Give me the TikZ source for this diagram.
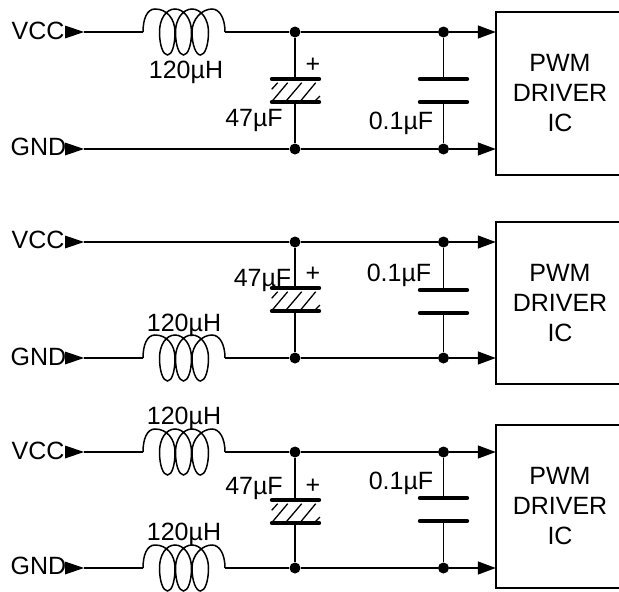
\documentclass[tikz,border=0pt]{standalone}
\usepackage{fontspec}
\setmainfont{Liberation Sans}
\usetikzlibrary{arrows.meta}
\tikzset{
  wire/.style={line width=1.5pt,black},
  plate/.style={line width=4.4pt,line cap=round,black},
  hatchline/.style={line width=1.3pt,black},
  dot/.style={circle,fill=black,inner sep=0pt,minimum size=11pt},
  tipwire/.style={wire,-{Triangle[length=18pt,width=13pt]},shorten >=-0.5pt},
  lbl/.style={anchor=base,inner sep=0pt,font=\fontsize{25}{30}\selectfont},
  chip/.style={draw,line width=1.5pt,inner sep=0pt,minimum width=128pt,align=center,font=\fontsize{25}{30}\selectfont}
}
% coil: name, wire y
\newcommand{\coilat}[2]{%
  \coordinate (#1-in) at (143,#2);
  \coordinate (#1-out) at (225,#2);
  \draw[wire,shift={(0,#2)}] (143,0)
    .. controls (143,-13) and (147,-23) .. (155,-23)
    .. controls (167,-23) and (175,-13) .. (175,0)
    .. controls (175,13) and (172,23) .. (167.5,23)
    .. controls (163,23) and (159.5,13) .. (159.5,0)
    .. controls (159.5,-13) and (166,-23) .. (175,-23)
    .. controls (184,-23) and (191.5,-13) .. (191.5,0)
    .. controls (191.5,13) and (188,23) .. (183.5,23)
    .. controls (179,23) and (175.5,13) .. (175.5,0)
    .. controls (175.5,-13) and (183,-23) .. (192,-23)
    .. controls (201,-23) and (208.5,-13) .. (208.5,0)
    .. controls (208.5,13) and (205,23) .. (200.5,23)
    .. controls (196,23) and (192,13) .. (192,0)
    .. controls (192,-13) and (202,-23) .. (212,-23)
    .. controls (220,-23) and (225,-13) .. (225,0);
}
% panel: name, yV, yG, electrolytic plate top, ceramic plate top, box top, box bottom
\newcommand{\panelat}[7]{%
  \coordinate (#1-vs) at (65,#2);
  \coordinate (#1-vt) at (84,#2);
  \coordinate (#1-gs) at (65,#3);
  \coordinate (#1-gt) at (84,#3);
  \node[dot] (#1-va) at (295,#2) {};
  \node[dot] (#1-ga) at (295,#3) {};
  \node[dot] (#1-vb) at (443.5,#2) {};
  \node[dot] (#1-gb) at (443.5,#3) {};
  \pgfmathsetmacro{\chiph}{#7-#6}
  \pgfmathsetmacro{\chipc}{(#7+#6)/2}
  \node[chip,minimum height=\chiph pt] (#1-ic) at (560,\chipc) {PWM\\DRIVER\\IC};
  \coordinate (#1-vi) at (#1-ic.west |- 0,#2);
  \coordinate (#1-gi) at (#1-ic.west |- 0,#3);
  \fill ([yshift=6.5pt]#1-vs) -- (#1-vt) -- ([yshift=-6.5pt]#1-vs) -- cycle;
  \fill ([yshift=6.5pt]#1-gs) -- (#1-gt) -- ([yshift=-6.5pt]#1-gs) -- cycle;
  \draw[wire] (#1-va) -- (#1-vb);
  \draw[wire] (#1-ga) -- (#1-gb);
  \draw[tipwire] (#1-vb) -- (#1-vi);
  \draw[tipwire] (#1-gb) -- (#1-gi);
  % electrolytic capacitor
  \coordinate (#1-ea) at (295,#4);
  \coordinate (#1-eb) at (295,#4+23);
  \draw[wire] (#1-va) -- (#1-ea);
  \draw[wire] (#1-eb) -- (#1-ga);
  \draw[plate] (272,#4) -- (319,#4);
  \draw[plate] (272,#4+23) -- (319,#4+23);
  \draw[hatchline] (271.7,#4+10.3) -- (277.7,#4+3.7);
  \draw[hatchline] (271.7,#4+22.7) -- (287.7,#4+3.7);
  \draw[hatchline] (285.5,#4+22.7) -- (301.7,#4+3.7);
  \draw[hatchline] (300,#4+22.7) -- (315.7,#4+3.7);
  \draw[hatchline] (314.3,#4+22.7) -- (320,#4+17);
  % ceramic capacitor
  \coordinate (#1-ca) at (443.5,#5);
  \coordinate (#1-cb) at (443.5,#5+23);
  \draw[wire] (#1-vb) -- (#1-ca);
  \draw[wire] (#1-cb) -- (#1-gb);
  \draw[plate] (420,#5) -- (467,#5);
  \draw[plate] (420,#5+23) -- (467,#5+23);
}
\begin{document}
\begin{tikzpicture}[x=1pt,y=-1pt]
\path[use as bounding box] (0,0) rectangle (619,592);
\clip (0,0) rectangle (619,592);
% panel 1
\panelat{a}{32}{149}{79}{79}{12}{175}
\coilat{al}{32}
\draw[wire] (a-vt) -- (al-in);
\draw[wire] (al-out) -- (a-va);
\draw[wire] (a-gt) -- (a-ga);
\node[lbl] (a-vcc) at (38,39) {VCC};
\node[lbl] (a-gnd) at (38.5,155) {GND};
\node[lbl] (a-l) at (186,78) {120µH};
\node[lbl] (a-c1) at (254,126) {47µF};
\node[lbl] (a-plus) at (313,72) {+};
\node[lbl] (a-c2) at (401,129) {0.1µF};
% panel 2
\panelat{b}{242}{358}{288}{290}{222}{384}
\coilat{bl}{358}
\draw[wire] (b-vt) -- (b-va);
\draw[wire] (b-gt) -- (bl-in);
\draw[wire] (bl-out) -- (b-ga);
\node[lbl] (b-vcc) at (38,248) {VCC};
\node[lbl] (b-gnd) at (38.5,365) {GND};
\node[lbl] (b-l) at (184,331) {120µH};
\node[lbl] (b-c1) at (262.5,286) {47µF};
\node[lbl] (b-plus) at (313,281) {+};
\node[lbl] (b-c2) at (399,281) {0.1µF};
% panel 3
\panelat{c}{452}{568}{500}{498}{425}{588}
\coilat{cl}{452}
\coilat{cm}{568}
\draw[wire] (c-vt) -- (cl-in);
\draw[wire] (cl-out) -- (c-va);
\draw[wire] (c-gt) -- (cm-in);
\draw[wire] (cm-out) -- (c-ga);
\node[lbl] (c-vcc) at (38,459) {VCC};
\node[lbl] (c-gnd) at (38.5,574) {GND};
\node[lbl] (c-l) at (184,424) {120µH};
\node[lbl] (c-m) at (184,540) {120µH};
\node[lbl] (c-c1) at (254,494) {47µF};
\node[lbl] (c-plus) at (313,493) {+};
\node[lbl] (c-c2) at (401,489) {0.1µF};
\end{tikzpicture}
\end{document}
